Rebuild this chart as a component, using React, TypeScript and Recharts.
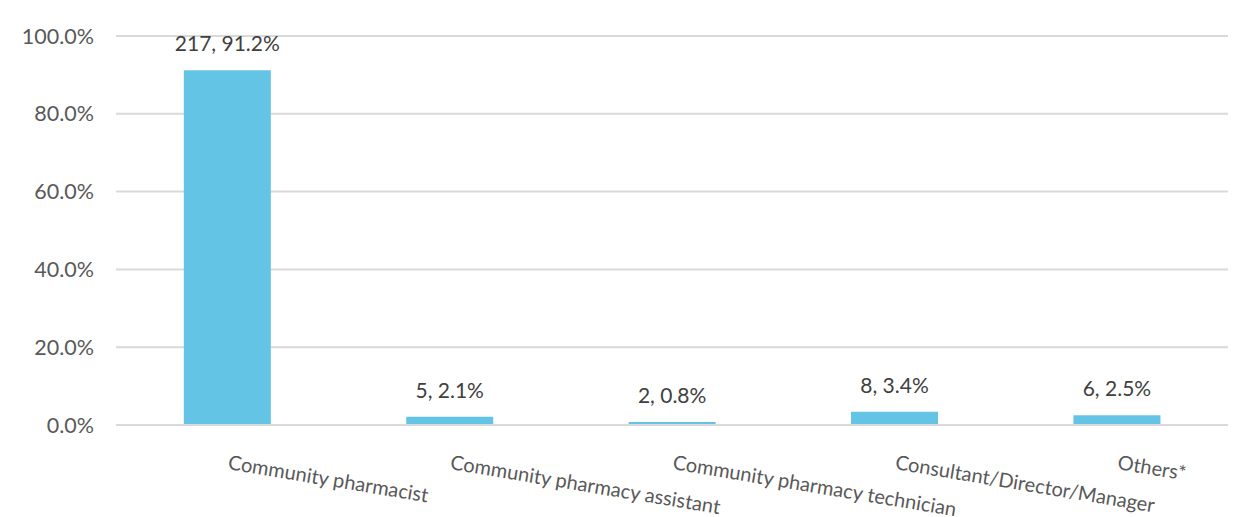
import React from "react";
import { Bar, BarChart, CartesianGrid, Customized, LabelList, XAxis, YAxis } from "recharts";

const categories = [
	"Community pharmacist",
	"Community pharmacy assistant",
	"Community pharmacy technician",
	"Consultant/Director/Manager",
	"Others*",
];
const counts = [217, 5, 2, 8, 6];
const percents = [91.2, 2.1, 0.8, 3.4, 2.5];
const yTicks = [0, 20, 40, 60, 80, 100];

const data = categories.map((name, i) => ({
	name,
	count: counts[i],
	pct: percents[i],
	label: `${counts[i]}, ${percents[i].toFixed(1)}%`,
}));

const FONT = "Lato, 'Open Sans', sans-serif";

function XTick(props: any) {
	const { x, y, payload } = props;
	const ty = y + 36;
	return (
		<text
			x={x}
			y={ty}
			textAnchor="start"
			fill="#595959"
			fontSize={20}
			fontFamily={FONT}
			transform={`rotate(9.5, ${x}, ${ty})`}
		>
			{payload.value}
		</text>
	);
}

function TopLabel(props: any) {
	const { x, y, width, value } = props;
	return (
		<text
			x={x + width / 2}
			y={y - 19}
			textAnchor="middle"
			fill="#404040"
			fontSize={21}
			fontFamily={FONT}
		>
			{value}
		</text>
	);
}

// outer frame; only its top and left edges fall inside the picture
function Frame() {
	return <path d="M7 530 L7 7 L1270 7" fill="none" stroke="#d4d4d4" strokeWidth={2} />;
}

export default function App() {
	return (
		<div style={{ marginLeft: -8, marginTop: -8, width: 1256, height: 517 }}>
			<BarChart
				width={1256}
				height={517}
				data={data}
				margin={{ top: 36, right: 28, left: 0, bottom: 12 }}
				barCategoryGap="30.5%"
			>
				<Customized component={Frame} />
				<CartesianGrid vertical={false} stroke="#d9d9d9" strokeWidth={2} />
				<XAxis
					dataKey="name"
					height={80}
					tick={<XTick />}
					tickLine={false}
					axisLine={{ stroke: "#d9d9d9", strokeWidth: 2 }}
					interval={0}
				/>
				<YAxis
					width={116}
					domain={[0, 100]}
					ticks={yTicks}
					tickFormatter={(v: number) => `${v.toFixed(1)}%`}
					tick={{ fill: "#595959", fontSize: 21.5, fontFamily: FONT }}
					tickLine={false}
					tickSize={0}
					tickMargin={22}
					axisLine={false}
				/>
				<Bar dataKey="pct" fill="#64c4e5" isAnimationActive={false}>
					<LabelList dataKey="label" content={<TopLabel />} />
				</Bar>
			</BarChart>
		</div>
	);
}
